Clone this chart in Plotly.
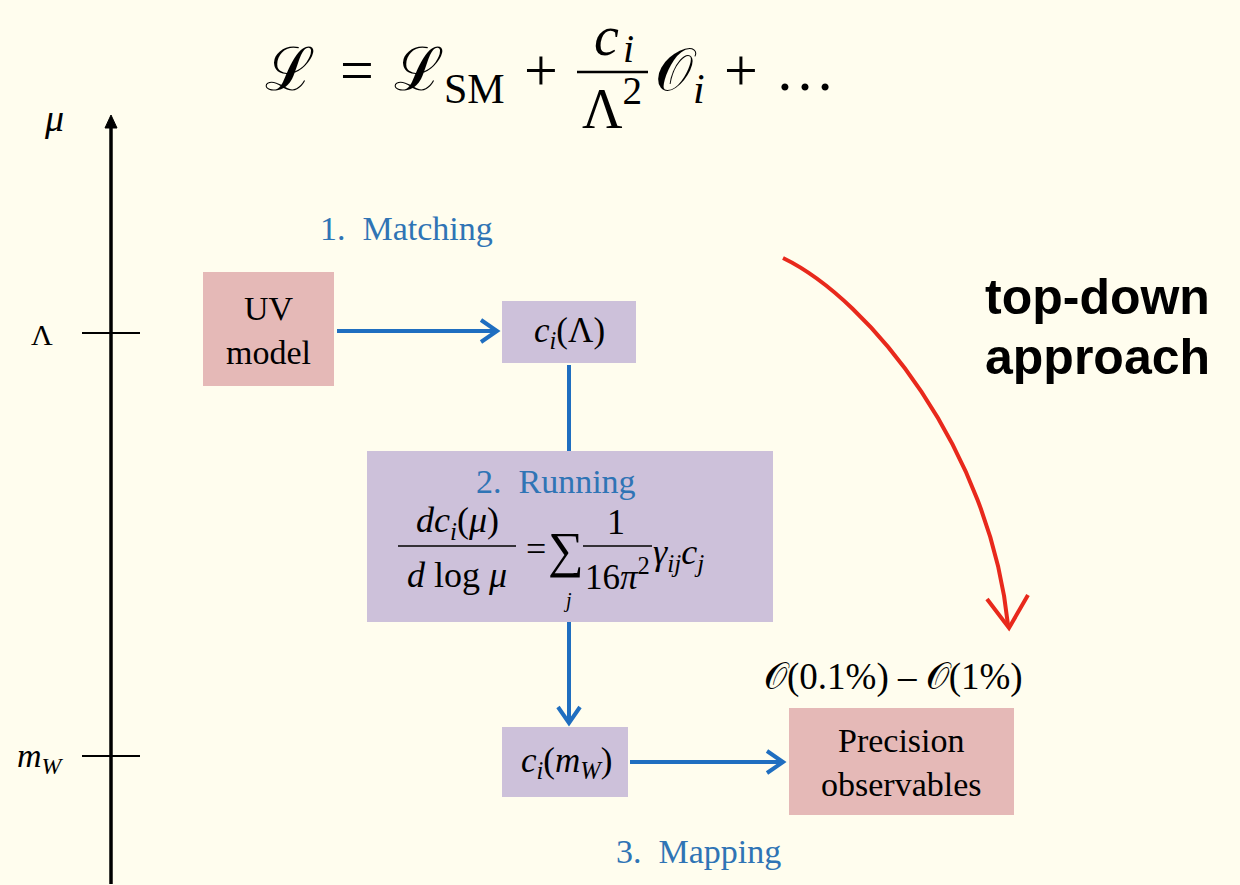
import plotly.graph_objects as go

# ---- content ----
scale_labels = ["<i>μ</i>", "Λ", "<i>m</i><sub><i>W</i></sub>"]
box_labels = ["UV<br>model", "<i>c</i><sub><i>i</i></sub>(Λ)", "<i>c</i><sub><i>i</i></sub>(<i>m</i><sub><i>W</i></sub>)",
              "Precision<br>observables"]
step_labels = ["1.\u00a0 Matching", "2.\u00a0 Running", "3.\u00a0 Mapping"]
precision_label = "𝒪(0.1%) – 𝒪(1%)"
approach_lines = ["top-down", "approach"]
lagrangian_parts = ["ℒ", "=", "ℒ<sub>SM</sub>", "+", "<i>c</i>", "<i>i</i>", "Λ<sup>2</sup>",
                    "𝒪<sub><i>i</i></sub>", "+", "…"]
running_parts = ["<i>dc</i><sub><i>i</i></sub>(<i>μ</i>)", "<i>d</i> log <i>μ</i>", "=", "∑", "<i>j</i>",
                 "1", "16<i>π</i><sup>2</sup>", "<i>γ</i><sub><i>ij</i></sub><i>c</i><sub><i>j</i></sub>"]

# geometry (pixel coordinates, y downward)
boxes = [  # x0, y0, x1, y1, fill
    (203, 272, 334, 386, "#E5B9B7"),
    (502, 301, 636, 363, "#CDC1DA"),
    (502, 727, 628, 797, "#CDC1DA"),
    (789, 708, 1014, 815, "#E5B9B7"),
]
running_box = (367, 451, 773, 622, "#CDC1DA")

BG = "#FFFDEE"
BLUE = "#1F6EC0"
BLUE_TXT = "#2F74B5"
RED = "#E8291C"
SERIF = "Liberation Serif"
SANS = "Liberation Sans"

shapes = []
annotations = []

def ann(x, y, text, size=30, color="black", xanchor="center", yanchor="middle", family=SERIF):
    annotations.append(dict(x=x, y=y, xref="x", yref="y", text=text, showarrow=False,
                            xanchor=xanchor, yanchor=yanchor, borderpad=0,
                            font=dict(size=size, color=color, family=family)))

def line(x0, y0, x1, y1, color="black", width=2):
    shapes.append(dict(type="line", x0=x0, y0=y0, x1=x1, y1=y1, xref="x", yref="y",
                       line=dict(color=color, width=width)))

def path(d, color, width, fill=None):
    s = dict(type="path", path=d, xref="x", yref="y", line=dict(color=color, width=width))
    if fill:
        s["fillcolor"] = fill
    shapes.append(s)

# boxes
for (x0, y0, x1, y1, c) in boxes + [running_box]:
    shapes.append(dict(type="rect", x0=x0, y0=y0, x1=x1, y1=y1, xref="x", yref="y",
                       fillcolor=c, line=dict(width=0), layer="below"))

# scale axis
line(111, 884, 111, 124, "black", 3.5)
path("M 105,128 L 111,115 L 117,128 Z", "black", 1, "black")
line(82, 333, 140, 333, "black", 2)
line(82, 756, 140, 756, "black", 2)
ann(54, 118, scale_labels[0], size=38)
ann(42, 334, scale_labels[1], size=30)
ann(40, 758, scale_labels[2], size=34)

# blue connectors
line(337, 331, 496, 331, BLUE, 4)
path("M 481,320 L 497,331 L 481,342", BLUE, 4)
line(569, 365, 569, 451, BLUE, 4)
line(569, 622, 569, 722, BLUE, 4)
path("M 558,707 L 569,723 L 580,707", BLUE, 4)
line(630, 762, 782, 762, BLUE, 4)
path("M 767,751 L 783,762 L 767,773", BLUE, 4)

# box texts
ann(268.5, 330, box_labels[0], size=34)
ann(569, 332, box_labels[1], size=35)
ann(566, 762, box_labels[2], size=35)
ann(901, 762, box_labels[3], size=34)

# step labels
ann(406, 228, step_labels[0], size=34, color=BLUE_TXT)
ann(556, 481, step_labels[1], size=34, color=BLUE_TXT)
ann(698, 851, step_labels[2], size=34, color=BLUE_TXT)
ann(893, 677, precision_label, size=37)

# running equation
ann(457, 522, running_parts[0], size=36)
line(398, 546, 516, 546, "black", 1.5)
ann(457, 575, running_parts[1], size=36)
ann(536, 549, running_parts[2], size=36)
ann(566, 550, running_parts[3], size=50)
ann(567, 600, running_parts[4], size=20)
ann(616, 522, running_parts[5], size=36)
ann(617, 574, running_parts[6], size=35)
line(583, 546, 652, 546, "black", 1.5)
ann(652, 554, running_parts[7], size=36, xanchor="left")

# Lagrangian
ann(290, 70, lagrangian_parts[0], size=60)
ann(357, 70, lagrangian_parts[1], size=60)
ann(393, 74, lagrangian_parts[2], size=60, xanchor="left")
ann(541, 70, lagrangian_parts[3], size=60)
ann(606, 36, lagrangian_parts[4], size=56)
ann(628, 48, lagrangian_parts[5], size=40)
line(577, 72, 648, 72, "black", 2.5)
ann(612, 104, lagrangian_parts[6], size=56)
ann(654, 74, lagrangian_parts[7], size=60, xanchor="left")
ann(741, 70, lagrangian_parts[8], size=60)
ann(805, 70, lagrangian_parts[9], size=60)

# top-down approach
ann(1097, 297, "<b>" + approach_lines[0] + "</b>", size=50, family=SANS)
ann(1097, 357, "<b>" + approach_lines[1] + "</b>", size=50, family=SANS)

# red hand-drawn arrow
path("M 783,258 C 870,300 990,450 1008,625", RED, 4)
path("M 987,599 L 1009,628 L 1028,595", RED, 4)

fig = go.Figure()
fig.update_layout(
    width=1240, height=885, autosize=False,
    margin=dict(l=0, r=0, t=0, b=0),
    paper_bgcolor=BG, plot_bgcolor=BG,
    xaxis=dict(range=[0, 1240], visible=False, fixedrange=True),
    yaxis=dict(range=[885, 0], visible=False, fixedrange=True),
    shapes=shapes, annotations=annotations, showlegend=False,
)
fig.write_html("out.html", config={"displayModeBar": False},
               post_script="document.body.style.margin='0';document.body.style.background='" + BG + "';")
